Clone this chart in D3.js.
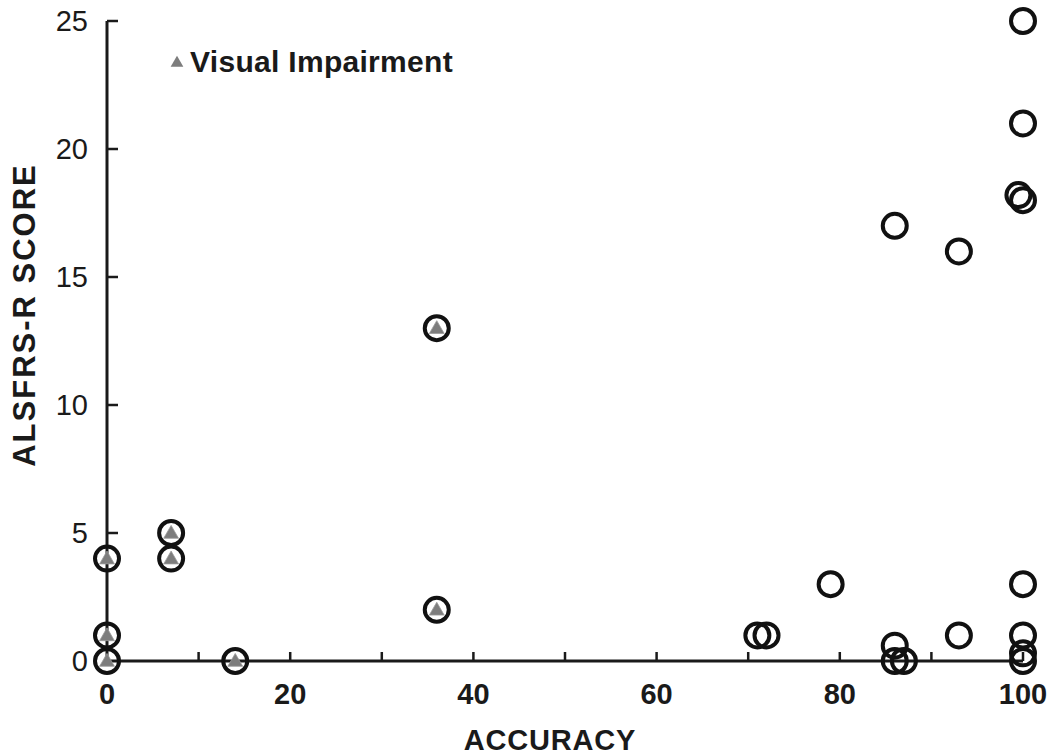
<!DOCTYPE html>
<html>
<head>
<meta charset="utf-8">
<script src="https://cdn.jsdelivr.net/npm/d3@7"></script>
<style>
  body { margin: 0; background: #fff; }
  text { font-family: "Liberation Sans", Arial, sans-serif; fill: #1a1a1a; }
</style>
</head>
<body>
<script>
// open circles: all subjects
var accuracy = [0, 0, 0, 7, 7, 14, 36, 36, 71, 72, 79, 86, 86, 86, 87, 93, 93, 99.5, 100, 100, 100, 100, 100, 100, 100];
var score    = [0, 1, 4, 5, 4, 0, 2, 13, 1, 1, 3, 17, 0.6, 0, 0, 16, 1, 18.2, 18, 21, 25, 3, 1, 0.3, 0];
// grey triangles: visual impairment subset
var viAccuracy = [0, 0, 0, 7, 7, 14, 36, 36];
var viScore    = [0, 1, 4, 5, 4, 0, 2, 13];

var xTicks = [0, 20, 40, 60, 80, 100];
var yTicks = [0, 5, 10, 15, 20, 25];

var width = 1050, height = 756;
var margin = {left: 107, right: 27, top: 21, bottom: 95};

var svg = d3.select("body").append("svg")
    .attr("width", width)
    .attr("height", height);

var x = d3.scaleLinear().domain([0, 100]).range([margin.left, width - margin.right]);
var y = d3.scaleLinear().domain([0, 25]).range([height - margin.bottom, margin.top]);

// axes
svg.append("line")
    .attr("x1", x(0)).attr("x2", x(0))
    .attr("y1", y(25)).attr("y2", y(0))
    .attr("stroke", "#1a1a1a").attr("stroke-width", 3);
svg.append("line")
    .attr("x1", x(0)).attr("x2", x(100))
    .attr("y1", y(0)).attr("y2", y(0))
    .attr("stroke", "#1a1a1a").attr("stroke-width", 3);

// x tick marks every 10, pointing up
svg.selectAll(".xtick")
    .data(d3.range(10, 101, 10))
    .enter().append("line")
    .attr("class", "xtick")
    .attr("x1", function(d){ return x(d); })
    .attr("x2", function(d){ return x(d); })
    .attr("y1", y(0))
    .attr("y2", y(0) - 9)
    .attr("stroke", "#1a1a1a").attr("stroke-width", 2.5);

// y tick marks pointing right
svg.selectAll(".ytick")
    .data(yTicks.slice(1))
    .enter().append("line")
    .attr("class", "ytick")
    .attr("x1", x(0))
    .attr("x2", x(0) + 11)
    .attr("y1", function(d){ return y(d); })
    .attr("y2", function(d){ return y(d); })
    .attr("stroke", "#1a1a1a").attr("stroke-width", 2.5);

svg.selectAll(".xlab")
    .data(xTicks)
    .enter().append("text")
    .attr("class", "xlab")
    .attr("x", function(d){ return x(d); })
    .attr("y", y(0) + 43)
    .attr("text-anchor", "middle")
    .style("font-size", "29px")
    .style("font-weight", "bold")
    .text(function(d){ return d; });

svg.selectAll(".ylab")
    .data(yTicks)
    .enter().append("text")
    .attr("class", "ylab")
    .attr("x", x(0) - 19)
    .attr("y", function(d){ return y(d) + 10; })
    .attr("text-anchor", "end")
    .style("font-size", "29px")
    .text(function(d){ return d; });

// axis titles
svg.append("text")
    .attr("x", 550)
    .attr("y", 750)
    .attr("text-anchor", "middle")
    .style("font-size", "29px")
    .style("font-weight", "bold")
    .style("letter-spacing", "0.8px")
    .text("ACCURACY");

svg.append("text")
    .attr("transform", "translate(35,315) rotate(-90)")
    .attr("text-anchor", "middle")
    .style("font-size", "31px")
    .style("font-weight", "bold")
    .style("letter-spacing", "2px")
    .text("ALSFRS-R SCORE");

// points
var pts = accuracy.map(function(d, i){ return {a: d, s: score[i]}; });
svg.selectAll(".pt")
    .data(pts)
    .enter().append("circle")
    .attr("class", "pt")
    .attr("cx", function(d){ return x(d.a); })
    .attr("cy", function(d){ return y(d.s); })
    .attr("r", 12)
    .attr("fill", "none")
    .attr("stroke", "#111")
    .attr("stroke-width", 4);

var tri = d3.symbol().type(d3.symbolTriangle).size(95);
var vi = viAccuracy.map(function(d, i){ return {a: d, s: viScore[i]}; });
svg.selectAll(".vi")
    .data(vi)
    .enter().append("path")
    .attr("class", "vi")
    .attr("d", tri)
    .attr("transform", function(d){ return "translate(" + x(d.a) + "," + (y(d.s) + 1) + ")"; })
    .attr("fill", "#7d7d7d")
    .attr("stroke", "#9a9a9a")
    .attr("stroke-width", 0.8);

// legend
svg.append("path")
    .attr("d", d3.symbol().type(d3.symbolTriangle).size(70))
    .attr("transform", "translate(177,63)")
    .attr("fill", "#7d7d7d");
svg.append("text")
    .attr("x", 190)
    .attr("y", 72)
    .style("font-size", "30px")
    .style("font-weight", "bold")
    .style("letter-spacing", "0.3px")
    .text("Visual Impairment");
</script>
</body>
</html>
